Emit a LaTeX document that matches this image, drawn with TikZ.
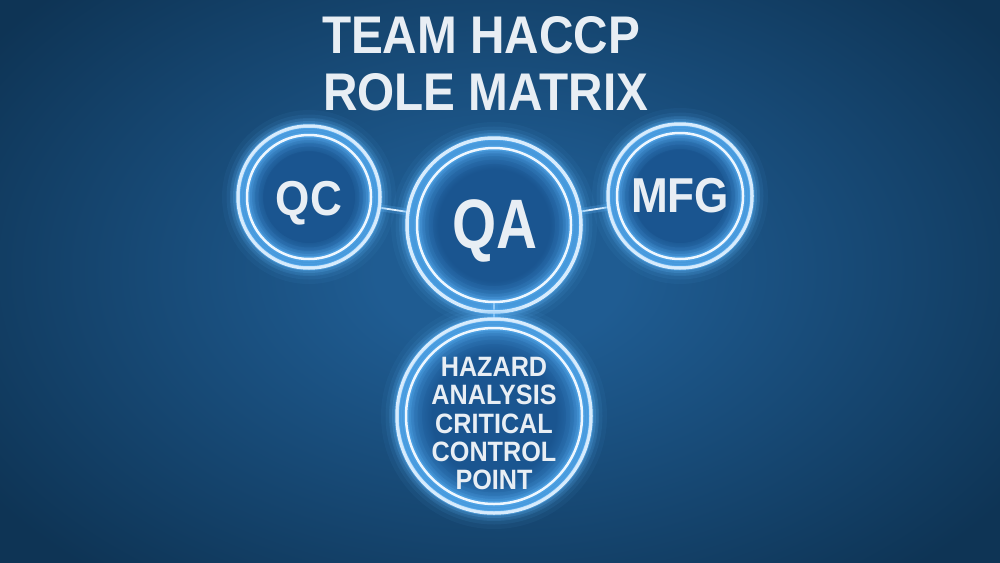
\documentclass[tikz,border=0pt]{standalone}
\usepackage{fontspec}
\usepackage{graphicx}
\setmainfont{Liberation Sans}
\newfontfamily\cfont[FakeStretch=0.9]{Liberation Sans Bold}
\definecolor{bgout}{HTML}{0E3455}
\definecolor{bgin}{HTML}{1F5C92}
\definecolor{cdark}{HTML}{1A5590}
\definecolor{clight}{HTML}{3584C8}
\definecolor{glowc}{HTML}{5CB2F5}
\definecolor{ringc}{HTML}{EEF7FF}
\definecolor{txtc}{HTML}{E8EEF4}
\pgfdeclareradialshading{bgshade}{\pgfpoint{0bp}{0bp}}{color(0bp)=(bgin); color(5bp)=(bgin); color(25bp)=(bgout); color(50bp)=(bgout)}
\pgfdeclareradialshading{innerglow}{\pgfpoint{0bp}{0bp}}{color(0bp)=(cdark); color(16bp)=(cdark); color(25bp)=(clight); color(50bp)=(clight)}
\newcommand\myglowring[3]{%
  \foreach \w/\o in {32/0.06,23/0.09,16/0.14,10/0.22,5.5/0.4}{%
    \draw[glowc, line width=\w pt, opacity=\o] (#1) circle (#2);}%
  \draw[ringc, line width=#3] (#1) circle (#2);}
\begin{document}
\begin{tikzpicture}[x=1pt,y=-1pt,
  ringnode/.style={circle, draw=none, inner sep=0pt, outer sep=0pt, minimum size=#1},
  link/.style={draw=ringc, line width=1.8pt},
  linkglow/.style={draw=glowc, line width=7pt, opacity=0.25},
  txt/.style={text=txtc, inner sep=0pt, outer sep=0pt}]
\useasboundingbox (0,0) rectangle (1000,562);
\fill[bgout] (-5,-5) rectangle (1005,567);
\begin{scope}
  \clip (-5,-5) rectangle (1005,567);
  \shade[shading=bgshade] (500,270) ellipse (620 and 400);
\end{scope}

% nodes
\node[ringnode=142] (qc) at (309,197) {};
\node[ringnode=174] (qa) at (494,225) {};
\node[ringnode=144] (mfg) at (680,196) {};
\node[ringnode=194] (hz) at (494,416) {};

% interiors
\shade[shading=innerglow] (qc.center) circle (71);
\shade[shading=innerglow] (qa.center) circle (87);
\shade[shading=innerglow] (mfg.center) circle (72);
\shade[shading=innerglow] (hz.center) circle (97);

% connectors
\draw[linkglow] (qc) -- (qa);
\draw[linkglow] (qa) -- (mfg);
\draw[linkglow, shorten <=-10pt] (qa) -- (hz);
\draw[link] (qc) -- (qa);
\draw[link] (qa) -- (mfg);
\draw[link, shorten <=-10pt] (qa) -- (hz);

% rings
\myglowring{qc.center}{71}{3.5pt}
\myglowring{qc.center}{62}{2.5pt}
\myglowring{qa.center}{87}{3.5pt}
\myglowring{qa.center}{77}{2.5pt}
\myglowring{mfg.center}{72}{3.5pt}
\myglowring{mfg.center}{63}{2.5pt}
\myglowring{hz.center}{97}{3.5pt}
\myglowring{hz.center}{88}{2.5pt}

% texts
\node[txt, anchor=base west, font=\cfont\fontsize{53}{53}\selectfont] (t1) at (322,53) {TEAM HACCP};
\node[txt, anchor=base west, font=\cfont\fontsize{53}{53}\selectfont] (t2) at (323,110) {ROLE MATRIX};
\node[txt, anchor=base, font=\cfont\fontsize{49}{49}\selectfont] (qct) at (309,215) {QC};
\node[txt, anchor=base, font=\cfont\fontsize{70}{70}\selectfont] (qat) at (495,248) {\scalebox{0.9}[1]{QA}};
\node[txt, anchor=base, font=\cfont\fontsize{49}{49}\selectfont] (mfgt) at (680,212) {MFG};
\node[txt, align=center, anchor=center, font=\cfont\fontsize{28}{28.3}\selectfont] (hzt) at (494,423.5) {HAZARD\\ANALYSIS\\CRITICAL\\CONTROL\\POINT};
\end{tikzpicture}
\end{document}
